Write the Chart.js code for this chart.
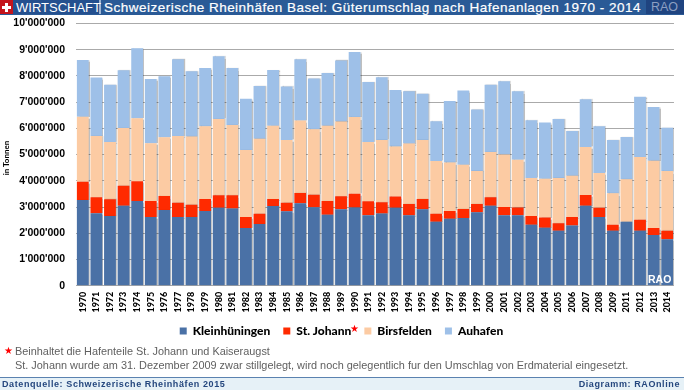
<!DOCTYPE html>
<html>
<head>
<meta charset="utf-8">
<script src="https://cdn.jsdelivr.net/npm/chart.js@4"></script>
<style>
  html, body { margin: 0; padding: 0; background: #fff; }
  #page { position: relative; width: 684px; height: 390px; overflow: hidden; font-family: "Liberation Sans", Arial, sans-serif; }
  #myCanvas { position: absolute; left: 0; top: 14px; }
  .header { position: absolute; left: 0; top: 0; width: 684px; height: 15px; background: #2a5a96; }
  .swiss { position: absolute; left: 0; top: 0; width: 13px; height: 14px; background: #c4141c; }
  .swiss:before { content: ""; position: absolute; left: 2px; top: 5.5px; width: 9px; height: 3px; background: #fff; }
  .swiss:after { content: ""; position: absolute; left: 5px; top: 2.5px; width: 3px; height: 9px; background: #fff; }
  .section { position: absolute; left: 13px; top: 0; width: 88px; height: 14px; background: #24508f; border-right: 2px solid #9fb6d4; color: #fff; font-size: 13px; line-height: 15px; padding-left: 3px; box-sizing: border-box; }
  .title { position: absolute; left: 104px; top: 0; color: #fff; font-size: 13.5px; line-height: 15px; letter-spacing: 0.49px; white-space: nowrap; -webkit-text-stroke: 0.2px #fff; }
  .rao { position: absolute; left: 646px; top: 0; width: 38px; height: 14px; background: #1f4480; color: #8c9fc2; font-size: 12.5px; line-height: 15px; padding-left: 5px; box-sizing: border-box; }
  .note { position: absolute; left: 15px; color: #5f5f5f; font-size: 10.9px; white-space: nowrap; }
  .star { color: #f00; position: absolute; font-size: 10px; }
  .unit { position: absolute; left: -12px; top: 153px; width: 36px; text-align: center; font-size: 8px; font-weight: bold; color: #000; transform: rotate(-90deg); white-space: nowrap; font-family: Lato, sans-serif; }
  .footer { position: absolute; left: 0; top: 377px; width: 684px; height: 13px; background: #e6f1f7; border-top: 1px solid #5a82b0; box-sizing: border-box; color: #25477e; font-size: 9px; font-weight: bold; line-height: 13px; letter-spacing: 0.6px; }
  .footer .left { position: absolute; left: 2px; top: 0; }
  .footer .right { position: absolute; right: 4px; top: 0; }
  .stamp { position: absolute; left: 648px; top: 273px; color: #fff; font-size: 10.5px; font-weight: bold; }
</style>
</head>
<body>
<div id="page">
  <div class="header"></div>
  <div class="swiss"></div>
  <div class="section">WIRTSCHAFT</div>
  <div class="title">Schweizerische Rheinhäfen Basel: Güterumschlag nach Hafenanlagen 1970 - 2014</div>
  <div class="rao">RAO</div>
  <canvas id="myCanvas" width="684" height="337"></canvas>
  <div class="unit">in Tonnen</div>
  <div class="stamp">RAO</div>
  <span class="star" style="left:350px;top:323px">★</span>
  <span class="star" style="left:4px;top:345px">★</span>
  <div class="note" style="top:345px">Beinhaltet die Hafenteile St. Johann und Kaiseraugst</div>
  <div class="note" style="top:359px">St. Johann wurde am 31. Dezember 2009 zwar stillgelegt, wird noch gelegentlich fur den Umschlag von Erdmaterial eingesetzt.</div>
  <div class="footer"><span class="left">Datenquelle: Schweizerische Rheinhäfen 2015</span><span class="right">Diagramm: RAOnline</span></div>
</div>
<script>
const years = ["1970","1971","1972","1973","1974","1975","1976","1977","1978","1979","1980","1981","1982","1983","1984","1985","1986","1987","1988","1989","1990","1991","1992","1993","1994","1995","1996","1997","1998","1999","2000","2001","2002","2003","2004","2005","2006","2007","2008","2009","2011","2012","2013","2014"];

// tonnes
const kleinhueningen = [3270000,2760000,2660000,3050000,3230000,2620000,2890000,2620000,2620000,2850000,2970000,2940000,2200000,2350000,3040000,2840000,3140000,2990000,2710000,2920000,2980000,2690000,2750000,2970000,2690000,2920000,2440000,2550000,2580000,2800000,3050000,2690000,2690000,2320000,2210000,2100000,2300000,3050000,2620000,2100000,2440000,2100000,1930000,1770000];
const stJohann = [690000,610000,640000,760000,750000,610000,530000,540000,470000,460000,480000,510000,420000,390000,270000,320000,400000,480000,520000,490000,530000,530000,430000,430000,430000,390000,300000,300000,350000,320000,320000,310000,290000,340000,390000,280000,320000,410000,350000,220000,0,420000,270000,330000];
const birsfelden = [2480000,2340000,2180000,2200000,2410000,2200000,2240000,2550000,2600000,2770000,2910000,2680000,2560000,2860000,2790000,2400000,2760000,2500000,2870000,2850000,2920000,2260000,2380000,1910000,2300000,2250000,2020000,1850000,1680000,1250000,1730000,2000000,1820000,1450000,1480000,1730000,1570000,1830000,1330000,1210000,1620000,2390000,2570000,2270000];
const auhafen = [2170000,2230000,2180000,2210000,2670000,2450000,2330000,2930000,2490000,2220000,2390000,2170000,1950000,2020000,2130000,2040000,2340000,1930000,2010000,2330000,2480000,2290000,2390000,2150000,2000000,1760000,1510000,2340000,2830000,2350000,2560000,2800000,2620000,2200000,2140000,2250000,1710000,1820000,1780000,2030000,1610000,2300000,2050000,1650000];

const yMax = 10000000;
const yStep = 1000000;

function formatTons(value) {
  return value === 0 ? "0" : value.toLocaleString("en-US").replace(/,/g, "'");
}

// soft shadow on the right of the bars, like the original
const barShadow = {
  id: "barShadow",
  beforeDatasetsDraw(chart) {
    chart.ctx.save();
    chart.ctx.shadowColor = "rgba(0,0,0,0.25)";
    chart.ctx.shadowOffsetX = 1;
    chart.ctx.shadowBlur = 1;
  },
  afterDatasetsDraw(chart) {
    chart.ctx.restore();
  },
};

// x labels need a tall axis box or they get clipped, so pull the legend up over it
const legendUp = {
  id: "legendUp",
  afterLayout(chart) {
    chart.legend.top -= 4;
    chart.legend.bottom -= 4;
  },
};

new Chart(document.getElementById("myCanvas"), {
  type: "bar",
  plugins: [barShadow, legendUp],
  data: {
    labels: years,
    datasets: [
      { label: "Kleinhüningen", data: kleinhueningen, backgroundColor: "#4a71a6" },
      { label: "St. Johann", data: stJohann, backgroundColor: "#ff2a00" },
      { label: "Birsfelden", data: birsfelden, backgroundColor: "#fccba3" },
      { label: "Auhafen", data: auhafen, backgroundColor: "#9ec0e8" },
    ],
  },
  options: {
    responsive: false,
    animation: false,
    layout: { padding: { left: 0, right: 1, top: 9.5, bottom: 0 } },
    datasets: { bar: { categoryPercentage: 1, barPercentage: 0.87 } },
    plugins: {
      title: { display: false },
      tooltip: { enabled: false },
      legend: {
        position: "bottom",
        align: "center",
        labels: {
          boxWidth: 7,
          boxHeight: 7,
          padding: 13,
          color: "#000",
          font: { family: "Lato", size: 12, weight: "900" },
        },
      },
    },
    scales: {
      x: {
        stacked: true,
        grid: { display: false, tickLength: 0 },
        border: { color: "#aaa" },
        afterFit(scale) {
          scale.height = 30.3;
        },
        ticks: {
          autoSkip: false,
          maxRotation: 90,
          minRotation: 90,
          padding: 6,
          color: "#000",
          font: { family: "Lato", size: 9, weight: "900" },
        },
      },
      y: {
        stacked: true,
        min: 0,
        max: yMax,
        // tick padding would eat into the plot height, the gap comes from an invisible tick instead
        grid: { color: "#aaa", tickLength: 11, tickColor: "rgba(0,0,0,0)" },
        border: { display: false },
        afterFit(scale) {
          scale.width = 76;
        },
        ticks: {
          stepSize: yStep,
          color: "#000",
          padding: 0,
          font: { family: "Liberation Sans", size: 10.5, weight: "bold" },
          callback: formatTons,
        },
      },
    },
  },
});
</script>
</body>
</html>
